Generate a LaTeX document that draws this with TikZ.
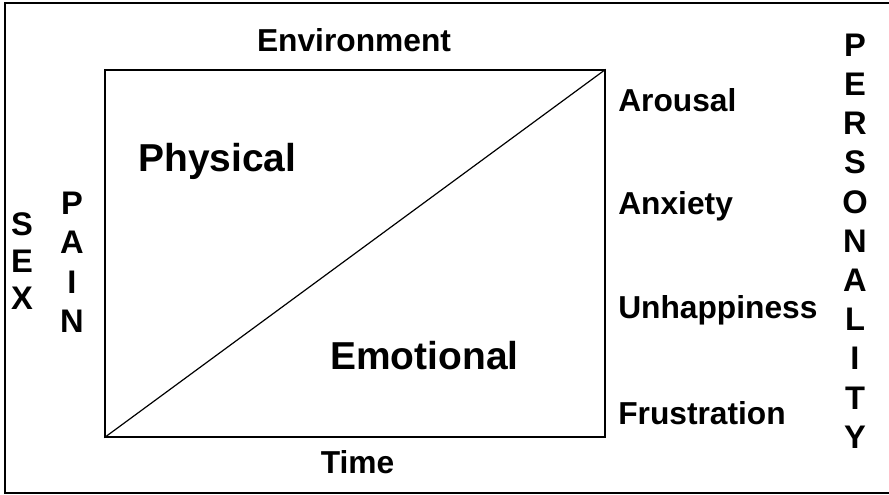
\documentclass[tikz,border=0pt]{standalone}
\usepackage{fontspec}
\setmainfont{Liberation Sans}
\begin{document}
\begin{tikzpicture}[x=0.75pt,y=-0.75pt,
  lbl/.style={font=\bfseries\fontsize{23.8pt}{28pt}\selectfont, inner sep=0pt},
  big/.style={font=\bfseries\fontsize{29.2pt}{34pt}\selectfont, inner sep=0pt},
  letter/.style={font=\bfseries\fontsize{24.5pt}{28pt}\selectfont, inner sep=0pt, anchor=center},
  frame/.style={draw, line width=1pt}]
\useasboundingbox (0,0) rectangle (889,495);
% outer frame (runs off the right edge)
\draw[frame] (5,3) rectangle (930,493);
% main square and its diagonal
\node[frame, minimum width=375pt, minimum height=275.25pt, inner sep=0pt] (box) at (355,253.5) {};
\draw[line width=0.9pt] (box.south west) -- (box.north east);
% axis labels
\node[lbl, anchor=base] (env) at (354,52) {Environment};
\node[lbl, anchor=base] (time) at (357.5,473) {Time};
% regions
\node[big, anchor=base west] (phys) at (138,172) {Physical};
\node[big, anchor=base west] (emo) at (330,369) {Emotional};
% right-hand list
\node[lbl, anchor=base west] (arousal) at (618,112) {Arousal};
\node[lbl, anchor=base west] (anxiety) at (618,215) {Anxiety};
\node[lbl, anchor=base west] (unhappy) at (618,319) {Unhappiness};
\node[lbl, anchor=base west] (frust) at (618,424) {Frustration};
% vertical words
\foreach \c [count=\i] in {S,E,X}
  \node[letter] (sex\i) at (22,{224+37*(\i-1)}) {\c};
\foreach \c [count=\i] in {P,A,I,N}
  \node[letter] (pain\i) at (72,{203+39.5*(\i-1)}) {\c};
\foreach \c [count=\i] in {P,E,R,S,O,N,A,L,I,T,Y}
  \node[letter] (pers\i) at (855,{45+39.2*(\i-1)}) {\c};
\end{tikzpicture}
\end{document}
